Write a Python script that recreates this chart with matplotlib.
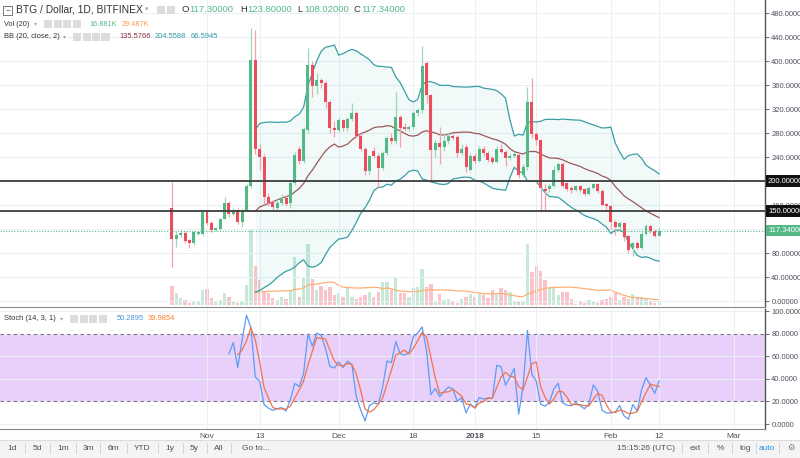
import numpy as np
import pandas as pd
import matplotlib
matplotlib.use("Agg")
import matplotlib.pyplot as plt
import matplotlib.dates as mdates
from matplotlib.patches import Rectangle

plt.rcParams["font.family"] = ["Liberation Sans", "DejaVu Sans"]

# daily BTG/USD candles from Bitfinex, first bar 2017-10-24
start = "2017-10-24"
opens = [155, 104, 110, 114, 102, 96, 112, 111, 149, 130, 118, 120, 137, 164, 145, 151, 131, 152, 191, 402,
         253, 240, 174, 165, 155, 163, 172, 163, 196, 253, 234, 285, 393, 358, 368, 364, 331, 288, 285, 301,
         288, 303, 313, 275, 254, 216, 250, 242, 222, 247, 271, 266, 306, 290, 287, 290, 313, 318, 397, 343,
         251, 264, 256, 266, 275, 273, 247, 256, 218, 242, 234, 254, 246, 238, 232, 254, 249, 238, 242, 243,
         210, 223, 331, 278, 268, 186, 186, 192, 218, 229, 196, 188, 185, 191, 186, 179, 189, 195, 184, 162,
         158, 131, 123, 130, 108, 88, 96, 89, 112, 125, 117, 108.5]
highs = [199, 116, 118, 116, 104, 117, 117, 152, 151, 133, 124, 138, 174, 167, 155, 155, 154, 195, 455, 452,
         262, 245, 180, 168, 170, 178, 175, 200, 248, 258, 290, 421, 400, 380, 372, 366, 335, 300, 305, 304,
         306, 330, 316, 280, 256, 244, 256, 246, 250, 275, 280, 349, 310, 296, 294, 316, 322, 425, 400, 345,
         268, 290, 280, 282, 280, 276, 262, 262, 246, 246, 258, 258, 250, 242, 258, 262, 252, 246, 248, 246,
         228, 357, 371, 282, 270, 195, 196, 225, 232, 232, 198, 192, 194, 193, 188, 192, 197, 197, 186, 164,
         160, 135, 132, 132, 110, 98, 100, 115, 128, 127, 120, 123.8]
lows = [56, 90, 105, 97, 88, 94, 110, 109, 127, 115, 116, 118, 136, 140, 143, 128, 124, 150, 188, 245,
        218, 162, 158, 150, 151, 160, 158, 155, 193, 228, 230, 280, 340, 345, 355, 322, 280, 274, 282, 284,
        283, 300, 272, 250, 210, 212, 238, 190, 218, 244, 262, 262, 257, 284, 283, 286, 308, 314, 330, 202,
        240, 228, 250, 262, 268, 240, 244, 215, 216, 230, 232, 242, 232, 228, 230, 246, 225, 235, 240, 205,
        206, 218, 272, 260, 149, 150, 182, 190, 215, 190, 184, 180, 183, 182, 175, 177, 186, 180, 158, 150,
        120, 110, 118, 100, 80, 75, 86, 87, 110, 113, 106, 108.02]
closes = [104, 110, 113, 100, 96, 115, 115, 149, 130, 119, 121, 137, 164, 145, 150, 131, 152, 191, 402, 253,
          240, 174, 163, 157, 164, 172, 162, 196, 243, 234, 286, 393, 358, 368, 363, 331, 288, 285, 301, 288,
          303, 313, 275, 254, 216, 241, 242, 222, 247, 271, 266, 306, 289, 287, 290, 313, 318, 392, 343, 251,
          264, 256, 266, 275, 271, 247, 254, 224, 242, 234, 254, 246, 235, 232, 254, 249, 238, 242, 245, 210,
          224, 331, 278, 268, 188, 184, 192, 218, 229, 191, 186, 185, 191, 185, 179, 189, 195, 184, 160, 158,
          131, 123, 130, 107, 85, 96, 89, 112, 125, 117, 108, 117.34]
volumes = [99, 62, 36, 26, 10, 21, 21, 78, 83, 36, 16, 26, 62, 42, 16, 10, 21, 104, 390, 203,
           130, 68, 62, 36, 26, 42, 31, 78, 250, 42, 146, 317, 135, 78, 99, 78, 94, 52, 62, 42,
           88, 42, 31, 42, 52, 68, 42, 68, 120, 120, 78, 140, 62, 62, 42, 88, 94, 187, 94, 109,
           21, 57, 26, 31, 21, 10, 31, 42, 57, 42, 57, 52, 36, 78, 62, 88, 78, 68, 16, 16,
           16, 317, 172, 203, 177, 130, 88, 88, 52, 68, 68, 31, 5, 21, 10, 26, 16, 10, 26, 31,
           42, 62, 26, 42, 31, 57, 42, 42, 31, 21, 10, 17]  # thousands

tick_dates = ["2017-11-01", "2017-11-13", "2017-12-01", "2017-12-18", "2018-01-01",
              "2018-01-15", "2018-02-01", "2018-02-12", "2018-03-01"]
tick_labels = ["Nov", "13", "Dec", "18", "2018", "15", "Feb", "12", "Mar"]
price_ticks = [0, 40, 80, 120, 160, 200, 240, 280, 320, 360, 400, 440, 480]
stoch_ticks = [0, 20, 40, 60, 80, 100]
levels = [200, 150]

GREEN = "#53b987"
RED = "#eb4d5c"
TEXT = "#4c525e"
DARK = "#333333"

df = pd.DataFrame({"open": opens, "high": highs, "low": lows, "close": closes, "vol": volumes},
                  index=pd.date_range(start, periods=len(closes), freq="D"))
x = mdates.date2num(df.index.to_pydatetime())
up = df["close"].values >= df["open"].values

# indicators, same definitions as the chart
basis = df["close"].rolling(20).mean()
dev = df["close"].rolling(20).std(ddof=0)
bb_up = basis + 2 * dev
bb_lo = basis - 2 * dev
vol_ma = df["vol"].rolling(20).mean()
hh = df["high"].rolling(14).max()
ll = df["low"].rolling(14).min()
k = 100 * (df["close"] - ll) / (hh - ll)
d = k.rolling(3).mean()

fig = plt.figure(figsize=(8, 4.58), dpi=100)
W, H = 800, 458

def fx(px):
    return px / W

def fy(py):
    return 1 - py / H

ax = fig.add_axes([0, fy(307), fx(765), 307 / H])
ax2 = fig.add_axes([0, fy(429), fx(765), (429 - 309) / H], sharex=ax)
axv = ax.twinx()
axv.set_zorder(0)
ax.set_zorder(1)
ax.patch.set_visible(False)

x0 = mdates.date2num(pd.Timestamp("2017-11-01"))
ax.set_xlim(x0 - 207 / 4.39, x0 + 558 / 4.39)
ax.set_ylim(-10, 501.7)
ax2.set_ylim(-4.4, 101.8)
axv.set_ylim(-10, 1586)
axv.axis("off")

# volume
vcol = np.where(up, "#c6e9d7", "#f9c4c9")
axv.bar(x, df["vol"], width=0.75, color=vcol, zorder=1)
axv.plot(x, vol_ma, color="#ffae76", lw=0.9, zorder=2)

# bollinger
ax.fill_between(x, bb_lo, bb_up, color="#2c9aa8", alpha=0.06, lw=0)
ax.plot(x, bb_up, color="#3b9ea6", lw=0.9)
ax.plot(x, bb_lo, color="#3b9ea6", lw=0.9)
ax.plot(x, basis, color="#9c5959", lw=0.9)

# candles
ccol = np.where(up, GREEN, RED)
wcol = np.where(up, "#9bd8b9", "#f3a3aa")
ax.vlines(x, df["low"], df["high"], colors=wcol, lw=0.9, zorder=3)
body_lo = np.minimum(df["open"], df["close"])
body_h = np.maximum(np.abs(df["close"] - df["open"]), 2.0)
ax.bar(x, body_h, bottom=body_lo, width=0.68, color=ccol, zorder=4, lw=0)

for lv in levels:
    ax.axhline(lv, color="#3d3d3d", lw=1.3, zorder=5)
    ax.text(1.004, lv, f"{lv:.5f}", transform=ax.get_yaxis_transform(), color="white",
            fontsize=5.5, va="center", ha="left", zorder=6, clip_on=False,
            bbox=dict(boxstyle="square,pad=0.3", fc="#111111", ec="none"))
last = closes[-1]
ax.axhline(last, color=GREEN, lw=0.8, ls=(0, (1, 1.5)), zorder=5)
ax.text(1.004, last, f"{last:.5f}", transform=ax.get_yaxis_transform(), color="white",
        fontsize=5.5, va="center", ha="left", zorder=6, clip_on=False,
        bbox=dict(boxstyle="square,pad=0.3", fc=GREEN, ec="none"))

# stochastic
ax2.axhspan(20, 80, color="#e9d0fb", lw=0, zorder=0)
for lv in (20, 80):
    ax2.axhline(lv, color="#7a7485", lw=0.8, ls=(0, (3, 3)), zorder=1)
ax2.plot(x, k, color="#5d9cf5", lw=0.9, zorder=3)
ax2.plot(x, d, color="#f2744a", lw=0.9, zorder=3)

tick_x = mdates.date2num(pd.to_datetime(tick_dates).to_pydatetime())
# the 120 label sits under the last-price box
price_labels = ["" if t == 120 else f"{t:.5f}" for t in price_ticks]
for a, ticks, labels in ((ax, price_ticks, price_labels),
                         (ax2, stoch_ticks, [f"{t:.4f}" for t in stoch_ticks])):
    a.set_xticks(tick_x)
    a.set_yticks(ticks)
    a.set_yticklabels(labels)
    a.yaxis.tick_right()
    a.tick_params(axis="y", length=3, width=0.6, color="#555555", labelsize=5.5,
                  labelcolor=TEXT, pad=1.5)
    a.grid(True, color="#e9eff3", lw=0.7, zorder=0)
    a.set_axisbelow(True)
    for s in ("top", "left"):
        a.spines[s].set_visible(False)
    a.spines["right"].set_color("#555555")
    a.spines["bottom"].set_color("#8a8a8a")
    a.spines["right"].set_linewidth(1.0)
ax.tick_params(axis="x", length=0, labelbottom=False)
ax2.set_xticklabels(tick_labels)
ax2.tick_params(axis="x", length=0, labelsize=6, labelcolor=TEXT, pad=3)
for lab in ax2.get_xticklabels():
    if lab.get_text() == "2018":
        lab.set_fontweight("bold")

# header
def icons(x_start, n, y):
    for i in range(n):
        fig.patches.append(Rectangle((fx(x_start + i * 9.5), fy(y + 4)), fx(8), 8 / H,
                                     transform=fig.transFigure, fc="#dcdcdc", ec="none"))

fig.patches.append(Rectangle((fx(3), fy(15)), fx(9), 9 / H, transform=fig.transFigure,
                             fc="white", ec="#777777", lw=0.7))
fig.text(fx(7.5), fy(10.5), "−", fontsize=6, color="#555555", ha="center", va="center")
fig.text(fx(16), fy(10), "BTG / Dollar, 1D, BITFINEX", fontsize=7.4, color=DARK, va="center")
fig.text(fx(145), fy(10), "▾", fontsize=5, color="#aaaaaa", va="center")
icons(157, 2, 10)
hdr = [(182, "O", DARK), (189, "117.30000", GREEN), (240, "H", DARK), (247.5, "123.80000", GREEN),
       (297, "L", DARK), (304, "108.02000", GREEN), (354, "C", DARK), (361.5, "117.34000", GREEN)]
for px, s, c in hdr:
    fig.text(fx(px), fy(10), s, fontsize=6.8, color=c, va="center")

fig.text(fx(4), fy(24), "Vol (20)", fontsize=5.3, color=DARK, va="center")
fig.text(fx(34), fy(24), "▾", fontsize=4.5, color="#aaaaaa", va="center")
icons(44, 4, 24)
fig.text(fx(89), fy(24), "16.881K", fontsize=5.3, color=GREEN, va="center")
fig.text(fx(122), fy(24), "29.487K", fontsize=5.3, color="#ff9a4d", va="center")

fig.text(fx(4), fy(37), "BB (20, close, 2)", fontsize=5.4, color=DARK, va="center")
fig.text(fx(63), fy(37), "▾", fontsize=4.5, color="#aaaaaa", va="center")
icons(73, 4, 37)
fig.text(fx(119), fy(37), "135.5766", fontsize=5.4, color="#8e2f40", va="center")
fig.text(fx(155), fy(37), "204.5588", fontsize=5.4, color="#2f98a3", va="center")
fig.text(fx(191), fy(37), "66.5945", fontsize=5.4, color="#2f98a3", va="center")

fig.text(fx(4), fy(319), "Stoch (14, 3, 1)", fontsize=5.4, color=DARK, va="center")
fig.text(fx(60), fy(319), "▾", fontsize=4.5, color="#aaaaaa", va="center")
icons(70, 4, 319)
fig.text(fx(117), fy(319), "50.2895", fontsize=5.4, color="#4a90e2", va="center")
fig.text(fx(148), fy(319), "39.9854", fontsize=5.4, color="#ff7f2a", va="center")

# bottom toolbar
fig.patches.append(Rectangle((0, 0), 1, fy(440), transform=fig.transFigure, fc="#f4f4f4",
                             ec="none", zorder=0))
fig.add_artist(plt.Line2D([0, 1], [fy(440), fy(440)], transform=fig.transFigure,
                          color="#dddddd", lw=0.8))
tools = [(12, "1d"), (37, "5d"), (63, "1m"), (88, "3m"), (113, "6m"), (142, "YTD"), (170, "1y"),
         (194, "5y"), (219, "All"), (256, "Go to...")]
for px, s in tools:
    fig.text(fx(px), fy(448), s, fontsize=6, color=TEXT, ha="center", va="center")
for px in (25, 50, 76, 100, 127, 158, 183, 207, 231):
    fig.add_artist(plt.Line2D([fx(px), fx(px)], [fy(443), fy(453)], transform=fig.transFigure,
                              color="#d5d5d5", lw=0.7))
right_tools = [(646, "15:15:26 (UTC)", TEXT), (695, "ext", TEXT), (720, "%", TEXT),
               (745, "log", TEXT), (767, "auto", "#2196f3"), (791, "⚙", "#777777")]
for px, s, c in right_tools:
    fig.text(fx(px), fy(448), s, fontsize=6, color=c, ha="center", va="center")
for px in (682, 708, 732, 756, 779):
    fig.add_artist(plt.Line2D([fx(px), fx(px)], [fy(443), fy(453)], transform=fig.transFigure,
                              color="#d5d5d5", lw=0.7))

fig.savefig("out.png", dpi=100)
